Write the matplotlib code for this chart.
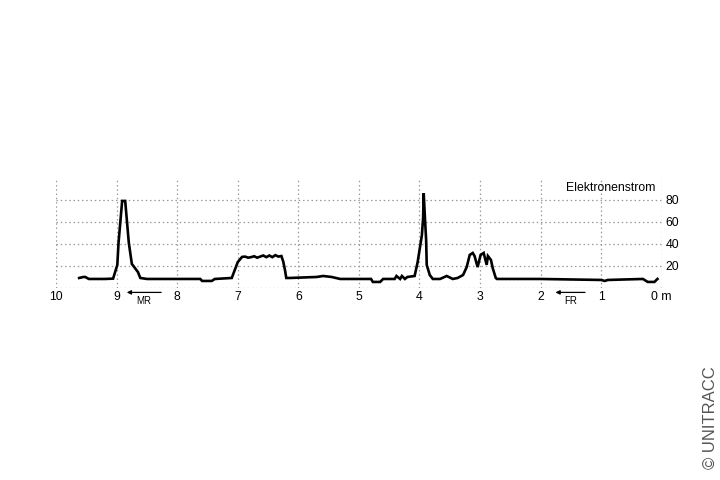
import matplotlib
matplotlib.use("Agg")
import matplotlib.pyplot as plt

# Messkurve: Abstand (m) und Elektronenstrom
abstand = [9.62, 9.55, 9.52, 9.46, 9.20, 9.06, 8.99, 8.97, 8.94, 8.91, 8.86,
           8.83, 8.80, 8.75, 8.70, 8.65, 8.61, 8.50, 7.62, 7.59, 7.43, 7.38,
           7.10, 7.05, 7.00, 6.93, 6.88, 6.83, 6.78, 6.73, 6.68, 6.63, 6.58,
           6.53, 6.48, 6.43, 6.38, 6.33, 6.28, 6.25, 6.22, 6.20, 6.14, 5.70,
           5.59, 5.45, 5.31, 5.00, 4.80, 4.77, 4.65, 4.60, 4.41, 4.38, 4.32,
           4.29, 4.24, 4.20, 4.08, 4.03, 3.96, 3.94, 3.93, 3.91, 3.89, 3.88,
           3.83, 3.78, 3.66, 3.55, 3.45, 3.37, 3.28, 3.22, 3.17, 3.12, 3.09,
           3.04, 2.99, 2.94, 2.89, 2.87, 2.82, 2.79, 2.74, 2.72, 2.01, 1.00,
           0.94, 0.89, 0.31, 0.23, 0.12, 0.07]
strom = [9.1, 10.0, 10.0, 8.2, 8.2, 8.5, 20.9, 40.9, 60.0, 79.0, 79.0,
         60.0, 40.9, 21.8, 18.2, 14.5, 9.1, 8.2, 8.2, 6.4, 6.4, 8.2,
         9.1, 16.4, 23.6, 28.2, 28.5, 27.5, 28.0, 28.8, 27.5, 28.5, 29.5,
         28.0, 29.5, 28.0, 29.8, 28.5, 29.0, 24.0, 16.0, 9.1, 9.1, 10.0,
         10.9, 10.0, 8.2, 8.2, 8.2, 5.5, 5.5, 8.2, 8.2, 10.9, 8.2,
         10.9, 8.2, 10.0, 10.9, 23.6, 48.0, 63.6, 86.0, 63.6, 43.6, 20.9,
         11.8, 8.2, 8.2, 10.9, 8.2, 9.1, 11.8, 19.0, 30.0, 31.8, 29.0,
         19.0, 30.0, 31.8, 21.0, 29.0, 25.5, 18.0, 9.1, 8.2, 8.2, 7.3,
         6.4, 7.3, 8.2, 5.5, 5.5, 8.2]

x_ticks = [10, 9, 8, 7, 6, 5, 4, 3, 2, 1, 0]
x_labels = ["10", "9", "8", "7", "6", "5", "4", "3", "2", "1", "0 m"]
y_ticks = [0, 20, 40, 60, 80]
y_labels = ["", "20", "40", "60", "80"]

plt.rcParams["font.family"] = ["Liberation Sans", "DejaVu Sans"]

fig = plt.figure(figsize=(7.2, 4.8), dpi=100)
ax = fig.add_axes([0.078, 0.40, 0.841, 0.225])

ax.plot(abstand, strom, color="black", linewidth=1.9, solid_joinstyle="miter")

ax.set_xlim(10, 0)
ax.set_ylim(0, 98)
ax.set_xticks(x_ticks)
ax.set_xticklabels(x_labels)
ax.set_yticks(y_ticks)
ax.set_yticklabels(y_labels)
ax.yaxis.tick_right()
ax.tick_params(axis="both", length=0, labelsize=8.8, colors="black")
ax.tick_params(axis="x", pad=2)
ax.tick_params(axis="y", pad=3)
ax.grid(True, color="#9a9a9a", linestyle=(0, (1.2, 2.2)), linewidth=0.9)
for s in ax.spines.values():
    s.set_visible(False)

ax.text(0.99, 0.985, "Elektronenstrom", transform=ax.transAxes,
        ha="right", va="top", fontsize=8.8)

# Fahrtrichtungs-Pfeile
ax.annotate("", xy=(8.88, -4), xytext=(8.22, -4), annotation_clip=False,
            arrowprops=dict(arrowstyle="-|>", color="black", lw=0.9,
                            mutation_scale=6))
ax.text(8.55, -7, "MR", ha="center", va="top", fontsize=7, clip_on=False)
ax.annotate("", xy=(1.80, -4), xytext=(1.22, -4), annotation_clip=False,
            arrowprops=dict(arrowstyle="-|>", color="black", lw=0.9,
                            mutation_scale=6))
ax.text(1.50, -7, "FR", ha="center", va="top", fontsize=7, clip_on=False)

fig.text(0.986, 0.13, "© UNITRACC", rotation=90, ha="center", va="center",
         fontsize=12, color="#555555")

fig.savefig("out.png", dpi=100)
